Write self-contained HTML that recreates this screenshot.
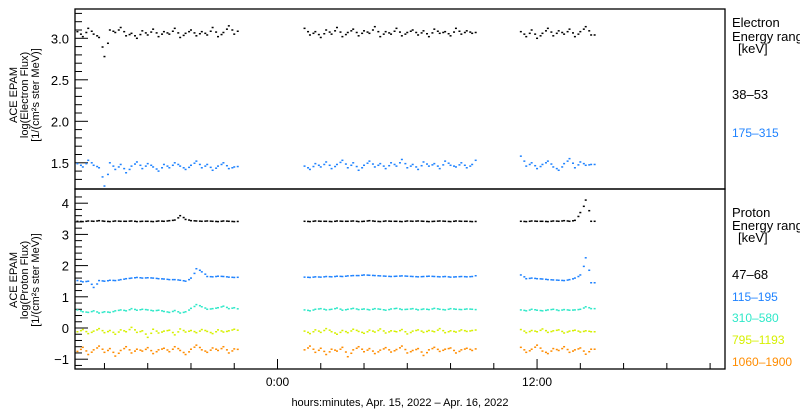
<!DOCTYPE html>
<html><head><meta charset="utf-8"><style>
body{margin:0;background:#fff;}
svg{display:block;font-family:"Liberation Sans",sans-serif;}
</style></head><body>
<svg id="chart" width="800" height="410" viewBox="0 0 800 410" xmlns="http://www.w3.org/2000/svg">
<g id="axes"></g><g id="marks"></g>
<g font-size="11" text-anchor="middle">
 <text transform="translate(17,95) rotate(-90)">ACE EPAM</text>
 <text transform="translate(28,95) rotate(-90)">log(Electron Flux)</text>
 <text transform="translate(39,95) rotate(-90)">[1/(cm²s ster MeV)]</text>
</g>
<g font-size="11" text-anchor="middle">
 <text transform="translate(17,280) rotate(-90)">ACE EPAM</text>
 <text transform="translate(28,280) rotate(-90)">log(Proton Flux)</text>
 <text transform="translate(39,280) rotate(-90)">[1/(cm²s ster MeV)]</text>
</g>
<g font-size="13">
 <text x="732" y="27">Electron</text>
 <text x="732" y="41">Energy ranges</text>
 <text x="738" y="53">[keV]</text>
 <text x="732" y="99" fill="#000">38–53</text>
 <text x="732" y="137" fill="#1e82ff" font-size="12">175–315</text>
</g>
<g font-size="13">
 <text x="732" y="217">Proton</text>
 <text x="732" y="230">Energy ranges</text>
 <text x="738" y="242">[keV]</text>
 <text x="732" y="279">47–68</text>
 <text x="732" y="301" fill="#1e82ff" font-size="12">115–195</text>
 <text x="732" y="322" fill="#2ee8c8" font-size="12">310–580</text>
 <text x="732" y="344" fill="#d6f000" font-size="12">795–1193</text>
 <text x="732" y="366" fill="#ff8c00" font-size="12">1060–1900</text>
</g>
<text x="400" y="406" font-size="11" text-anchor="middle">hours:minutes, Apr. 15, 2022 – Apr. 16, 2022</text>
</svg>
<script>
const hours = [-9.25,-9.0,-8.75,-8.5,-8.25,-8.0,-7.75,-7.5,-7.25,-7.0,-6.75,-6.5,-6.25,-6.0,-5.75,-5.5,-5.25,-5.0,-4.75,-4.5,-4.25,-4.0,-3.75,-3.5,-3.25,-3.0,-2.75,-2.5,-2.25,-2.0,
1.25,1.5,1.75,2.0,2.25,2.5,2.75,3.0,3.25,3.5,3.75,4.0,4.25,4.5,4.75,5.0,5.25,5.5,5.75,6.0,6.25,6.5,6.75,7.0,7.25,7.5,7.75,8.0,8.25,8.5,8.75,9.0,
11.25,11.5,11.75,12.0,12.25,12.5,12.75,13.0,13.25,13.5,13.75,14.0,14.25,14.5];
const elec38 = [3.08,3.02,3.12,3.05,3.01,2.78,3.10,3.07,3.13,3.03,3.06,3.00,3.09,3.04,3.11,3.02,3.08,3.05,3.12,3.01,3.06,3.10,3.03,3.08,3.04,3.13,3.02,3.07,3.15,3.05,
3.12,3.04,3.08,3.01,3.10,3.05,3.13,3.02,3.07,3.11,3.03,3.09,3.06,3.14,3.02,3.08,3.05,3.12,3.03,3.07,3.10,3.04,3.09,3.02,3.11,3.06,3.08,3.03,3.12,3.05,3.09,3.06,
3.08,3.02,3.10,3.00,3.06,3.12,3.03,3.09,3.05,3.11,3.02,3.08,3.14,3.04];
const elec175 = [1.49,1.45,1.53,1.47,1.44,1.22,1.50,1.42,1.48,1.38,1.46,1.51,1.43,1.49,1.45,1.40,1.48,1.44,1.50,1.46,1.42,1.47,1.52,1.44,1.48,1.41,1.46,1.50,1.43,1.45,
1.46,1.42,1.49,1.45,1.51,1.43,1.48,1.53,1.44,1.50,1.41,1.47,1.52,1.45,1.49,1.43,1.50,1.46,1.54,1.44,1.48,1.42,1.51,1.46,1.49,1.43,1.52,1.47,1.45,1.50,1.44,1.48,
1.58,1.46,1.50,1.43,1.48,1.52,1.45,1.41,1.49,1.55,1.44,1.51,1.47,1.48];
const prot47 = [3.42,3.41,3.43,3.42,3.44,3.42,3.41,3.43,3.42,3.42,3.43,3.41,3.42,3.42,3.41,3.43,3.42,3.44,3.46,3.60,3.48,3.44,3.43,3.42,3.43,3.42,3.41,3.43,3.42,3.41,
3.42,3.41,3.43,3.42,3.42,3.41,3.43,3.42,3.42,3.43,3.41,3.42,3.44,3.42,3.41,3.43,3.42,3.42,3.41,3.43,3.42,3.43,3.42,3.41,3.42,3.43,3.42,3.41,3.43,3.42,3.42,3.41,
3.42,3.41,3.43,3.42,3.42,3.41,3.43,3.42,3.44,3.42,3.45,3.70,4.10,3.42];
const prot115 = [1.52,1.48,1.50,1.30,1.52,1.50,1.53,1.52,1.55,1.58,1.60,1.62,1.60,1.61,1.60,1.58,1.57,1.55,1.55,1.53,1.50,1.60,1.90,1.80,1.65,1.64,1.66,1.65,1.63,1.62,
1.63,1.62,1.64,1.63,1.65,1.64,1.66,1.65,1.67,1.68,1.68,1.70,1.69,1.68,1.67,1.66,1.65,1.66,1.67,1.66,1.65,1.64,1.65,1.66,1.65,1.64,1.65,1.63,1.64,1.65,1.64,1.65,
1.70,1.58,1.60,1.58,1.57,1.55,1.54,1.53,1.52,1.55,1.60,1.70,2.25,1.45];
const prot310 = [0.58,0.52,0.50,0.55,0.48,0.52,0.50,0.55,0.58,0.55,0.62,0.57,0.60,0.58,0.55,0.57,0.53,0.50,0.56,0.48,0.52,0.63,0.75,0.68,0.60,0.62,0.65,0.70,0.62,0.65,
0.58,0.55,0.60,0.62,0.58,0.60,0.64,0.57,0.60,0.63,0.59,0.61,0.58,0.62,0.60,0.57,0.61,0.63,0.59,0.60,0.62,0.58,0.61,0.59,0.63,0.60,0.58,0.62,0.60,0.59,0.61,0.60,
0.58,0.55,0.60,0.57,0.55,0.58,0.60,0.56,0.59,0.57,0.58,0.60,0.68,0.62];
const prot795 = [-0.12,-0.05,-0.18,-0.10,-0.02,-0.15,-0.08,-0.20,-0.06,-0.12,0.02,-0.14,-0.09,-0.30,-0.04,-0.16,-0.10,-0.07,-0.22,-0.03,-0.13,-0.08,-0.15,-0.05,-0.11,-0.18,-0.06,-0.13,-0.09,-0.04,
-0.10,-0.18,-0.06,-0.14,-0.02,-0.12,-0.20,-0.08,-0.15,-0.04,-0.11,-0.17,-0.07,-0.13,-0.03,-0.16,-0.09,-0.12,-0.05,-0.19,-0.10,-0.06,-0.14,-0.08,-0.12,-0.02,-0.15,-0.09,-0.13,-0.06,-0.11,-0.08,
-0.05,-0.15,-0.08,-0.12,-0.03,-0.14,-0.09,-0.06,-0.16,-0.10,-0.07,-0.13,-0.09,-0.12];
const prot1060 = [-0.75,-0.62,-0.85,-0.70,-0.58,-0.78,-0.66,-0.90,-0.72,-0.60,-0.80,-0.68,-0.74,-0.63,-0.82,-0.70,-0.65,-0.76,-0.60,-0.72,-0.85,-0.68,-0.55,-0.70,-0.78,-0.64,-0.72,-0.60,-0.80,-0.67,
-0.70,-0.58,-0.78,-0.65,-0.85,-0.68,-0.74,-0.62,-0.92,-0.70,-0.60,-0.76,-0.66,-0.82,-0.71,-0.63,-0.77,-0.69,-0.58,-0.80,-0.72,-0.66,-0.88,-0.70,-0.62,-0.75,-0.68,-0.64,-0.80,-0.70,-0.65,-0.72,
-0.62,-0.78,-0.68,-0.55,-0.74,-0.82,-0.66,-0.72,-0.60,-0.78,-0.70,-0.64,-0.84,-0.68];
const xTicks = [-8,-6,-4,-2,0,2,4,6,8,10,12,14,16,18,20];
const xLabelHours = [0,12];
const xLabels = ["0:00","12:00"];
const topTicks = [1.5,2.0,2.5,3.0];
const topTickLabels = ["1.5","2.0","2.5","3.0"];
const botTicks = [-1,0,1,2,3,4];
const botTickLabels = ["−1","0","1","2","3","4"];

const NS="http://www.w3.org/2000/svg";
const L=75,R=725,T=9,MID=189,B=369;
const xs=h=>277.5+h*21.63;
const yTop=v=>38.3-(v-3.0)*83;
const yBot=v=>328-v*31.2;
const axes=document.getElementById('axes'), marks=document.getElementById('marks');
function mk(tag,attrs,parent){const e=document.createElementNS(NS,tag);for(const k in attrs)e.setAttribute(k,attrs[k]);parent.appendChild(e);return e;}

let f1=mk('rect',{x:L,y:T,width:R-L,height:MID-T,fill:'none',stroke:'#000','stroke-width':1.3},axes);


let f2=mk('rect',{x:L,y:MID,width:R-L,height:B-MID,fill:'none',stroke:'#000','stroke-width':1.3},axes);



for(let i=13;i<=33;i++){const v=i/10;const y=yTop(v);if(y<T+2||y>MID-2)continue;
 const major=topTicks.some(t=>Math.abs(t-v)<1e-6);
 const t=mk('line',{x1:L,x2:L+(major?13:7),y1:y,y2:y,stroke:'#000'},axes);
 
 }
topTicks.forEach((v,i)=>{const t=mk('text',{x:69,y:yTop(v)+5,'font-size':13,'text-anchor':'end'},axes);t.textContent=topTickLabels[i];
 
 });
for(let i=-6;i<=22;i++){const v=i/5;const y=yBot(v);if(y<MID+2||y>B-1)continue;
 const major=botTicks.some(t=>Math.abs(t-v)<1e-6);
 const t=mk('line',{x1:L,x2:L+(major?13:7),y1:y,y2:y,stroke:'#000'},axes);
 
 }
botTicks.forEach((v,i)=>{const t=mk('text',{x:69,y:yBot(v)+5,'font-size':13,'text-anchor':'end'},axes);t.textContent=botTickLabels[i];
 
 });
xTicks.forEach(h=>{const x=xs(h);if(x<L||x>R)return;const major=xLabelHours.includes(h);
 const t=mk('line',{x1:x,x2:x,y1:B,y2:B-(major?10:6),stroke:'#000'},axes);
 
 });
xLabelHours.forEach((h,i)=>{const t=mk('text',{x:xs(h),y:386,'font-size':12,'text-anchor':'middle'},axes);t.textContent=xLabels[i];
 
 });

function series(vals,yf,color,name){const g=mk('g',{fill:color},marks);
 
 
 vals.forEach((v,i)=>{const x=xs(hours[i]);const y=yf(v);
  mk('rect',{x:x-1,y:y-0.75,width:2,height:1.5},g);
  mk('rect',{x:x+2.5,y:yf(v+(vals[i+1]!==undefined?(vals[i+1]-v)/2:0))-0.75,width:2,height:1.5},g);});}
series(elec38,yTop,'#000','series-electron-38-53');
series(elec175,yTop,'#1e82ff','series-electron-175-315');
series(prot47,yBot,'#000','series-proton-47-68');
series(prot115,yBot,'#1e82ff','series-proton-115-195');
series(prot310,yBot,'#2ee8c8','series-proton-310-580');
series(prot795,yBot,'#d6f000','series-proton-795-1193');
series(prot1060,yBot,'#ff8c00','series-proton-1060-1900');
</script>
</body></html>
